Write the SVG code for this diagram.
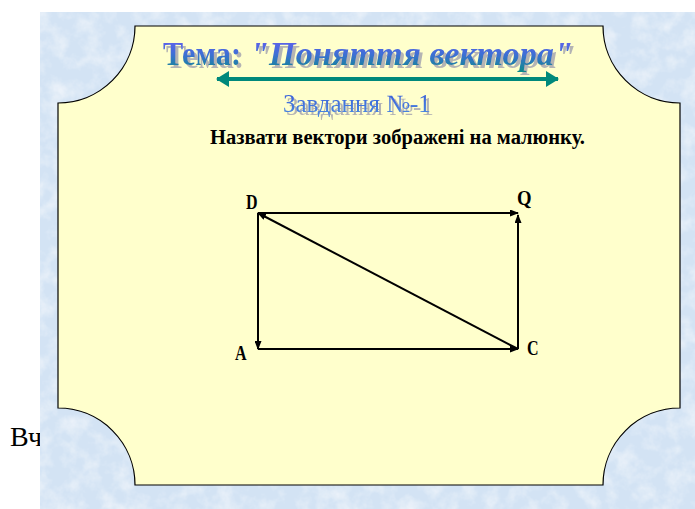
<svg xmlns="http://www.w3.org/2000/svg" width="695" height="509" viewBox="0 0 695 509">
<defs>
<style>
.vec{stroke:#000;stroke-width:2;fill:none;marker-end:url(#ah)}
.pt{font-family:"Liberation Serif",serif;font-weight:bold;fill:#000}
</style>
<linearGradient id="tg" x1="0" y1="0" x2="0" y2="1">
<stop offset="0" stop-color="#6a5cf2"/>
<stop offset="0.5" stop-color="#3f6fd6"/>
<stop offset="1" stop-color="#0a8a88"/>
</linearGradient>
<linearGradient id="sg" x1="0" y1="0" x2="0" y2="1">
<stop offset="0" stop-color="#3a5ad8"/>
<stop offset="1" stop-color="#4a8ce0"/>
</linearGradient>
<filter id="sh" x="-5%" y="-20%" width="110%" height="150%">
<feOffset in="SourceAlpha" dx="3" dy="3" result="o"/>
<feFlood flood-color="#b4b4b4"/>
<feComposite in2="o" operator="in" result="s"/>
<feMerge><feMergeNode in="s"/><feMergeNode in="SourceGraphic"/></feMerge>
</filter>
<marker id="ah" markerWidth="9" markerHeight="7" refX="8" refY="3.5" orient="auto" markerUnits="userSpaceOnUse">
<path d="M0,0 L9,3.5 L0,7 z" fill="#000"/>
</marker>
<marker id="tl" markerWidth="13" markerHeight="16" refX="1" refY="8" orient="auto" markerUnits="userSpaceOnUse">
<path d="M13,0 L0,8 L13,16 z" fill="#00897b"/>
</marker>
<marker id="tr" markerWidth="13" markerHeight="16" refX="12" refY="8" orient="auto" markerUnits="userSpaceOnUse">
<path d="M0,0 L13,8 L0,16 z" fill="#00897b"/>
</marker>
<filter id="marble" x="0" y="0" width="1" height="1">
<feTurbulence type="fractalNoise" baseFrequency="0.06" numOctaves="4" seed="3" result="n"/>
<feColorMatrix in="n" type="matrix" values="0 0 0 0 1  0 0 0 0 1  0 0 0 0 1  0 0 0 -1 0.6" result="w"/>
<feComposite in="w" in2="SourceGraphic" operator="in" result="wc"/>
<feMerge><feMergeNode in="SourceGraphic"/><feMergeNode in="wc"/></feMerge>
</filter>
</defs>
<rect width="695" height="509" fill="#fff"/>
<text x="10" y="446" font-family="Liberation Serif,serif" font-size="28" fill="#000">Вч</text>
<rect x="40" y="12" width="655" height="497" fill="#d3e3f4" filter="url(#marble)"/>
<g id="plaque">
<path d="M135,26 H603 A77,77 0 0 0 680,103 V408 A77,77 0 0 0 603,485 H135 A77,77 0 0 0 58,408 V103 A77,77 0 0 0 135,26 Z" fill="#ffffcc" stroke="#000" stroke-width="1.2"/>
</g>
<g id="title">
<text y="65" font-family="Liberation Serif,serif" font-size="33" font-weight="bold" fill="url(#tg)" filter="url(#sh)"><tspan x="163" textLength="78" lengthAdjust="spacingAndGlyphs">Тема:</tspan><tspan x="250" font-style="italic" textLength="323" lengthAdjust="spacingAndGlyphs">"Поняття вектора"</tspan></text>
<line x1="217" y1="79" x2="558" y2="79" stroke="#00897b" stroke-width="4" marker-start="url(#tl)" marker-end="url(#tr)"/>
</g>
<g id="subtitle">
<text x="283" y="112" font-family="Liberation Serif,serif" font-size="25" fill="url(#sg)" filter="url(#sh)">Завдання №-1</text>
</g>
<g id="task">
<text x="210" y="144" font-family="Liberation Serif,serif" font-size="20" font-weight="bold" fill="#000" textLength="375" lengthAdjust="spacingAndGlyphs">Назвати вектори зображені на малюнку.</text>
</g>
<g id="connectors">
<line class="vec" x1="258" y1="213" x2="518" y2="213"/>
<line class="vec" x1="518" y1="349" x2="518" y2="215"/>
<line class="vec" x1="258" y1="213" x2="258" y2="349"/>
<line class="vec" x1="258" y1="349" x2="518" y2="349"/>
<line class="vec" x1="518" y1="349" x2="258" y2="213"/>
</g>
<g id="node-D"><text class="pt" x="246" y="209" font-size="20" transform="translate(246 0) scale(0.8 1) translate(-246 0)">D</text></g>
<g id="node-Q"><text class="pt" x="517" y="205" font-size="22" transform="translate(517 0) scale(0.85 1) translate(-517 0)">Q</text></g>
<g id="node-A"><text class="pt" x="235" y="360" font-size="20" transform="translate(235 0) scale(0.8 1) translate(-235 0)">A</text></g>
<g id="node-C"><text class="pt" x="527" y="355" font-size="20" transform="translate(527 0) scale(0.8 1) translate(-527 0)">C</text></g>
</svg>
